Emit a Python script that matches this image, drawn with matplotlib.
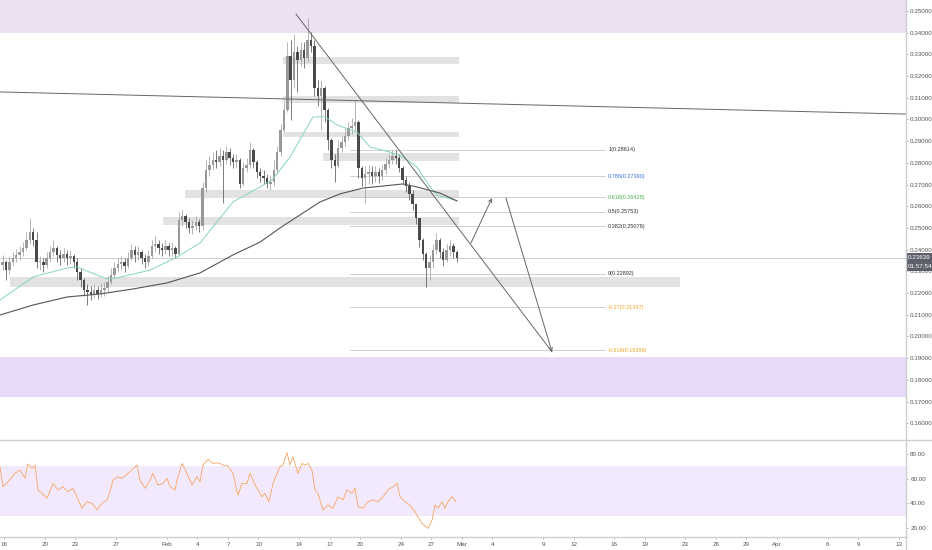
import numpy as np
import matplotlib.pyplot as plt
from matplotlib.lines import Line2D

plt.rcParams['font.family'] = ['Liberation Sans', 'DejaVu Sans']

# x axis: days since 2020-01-01, 8h candles
t0 = 14.667
first_open = 0.2330
closes = [0.2343, 0.2306, 0.2343, 0.2362, 0.2376, 0.2389, 0.2408, 0.2445, 0.2482, 0.2445,
          0.2343, 0.2343, 0.2330, 0.2362, 0.2389, 0.2408, 0.2376, 0.2362, 0.2380, 0.2362,
          0.2371, 0.2343, 0.2297, 0.2260, 0.2214, 0.2205, 0.2191, 0.2214, 0.2196, 0.2214,
          0.2224, 0.2251, 0.2283, 0.2316, 0.2334, 0.2343, 0.2325, 0.2362, 0.2399, 0.2376,
          0.2389, 0.2362, 0.2343, 0.2371, 0.2417, 0.2426, 0.2408, 0.2399, 0.2417, 0.2399,
          0.2408, 0.2380, 0.2537, 0.2555, 0.2528, 0.2500, 0.2509, 0.2528, 0.2509, 0.2684,
          0.2767, 0.2790, 0.2813, 0.2804, 0.2832, 0.2813, 0.2850, 0.2823, 0.2804, 0.2813,
          0.2703, 0.2776, 0.2790, 0.2860, 0.2804, 0.2758, 0.2740, 0.2730, 0.2703, 0.2712,
          0.2767, 0.2850, 0.2952, 0.3044, 0.3293, 0.3182, 0.3311, 0.3274, 0.3320, 0.3283,
          0.3366, 0.3339, 0.3145, 0.3108, 0.3145, 0.3044, 0.2906, 0.2813, 0.2786, 0.2869,
          0.2896, 0.2924, 0.2961, 0.2970, 0.2988, 0.2776, 0.2730, 0.2749, 0.2758, 0.2740,
          0.2758, 0.2740, 0.2767, 0.2795, 0.2813, 0.2832, 0.2823, 0.2776, 0.2721, 0.2694,
          0.2657, 0.2611, 0.2546, 0.2445, 0.2380, 0.2316, 0.2343, 0.2399, 0.2445, 0.2389,
          0.2353, 0.2399, 0.2417, 0.2389, 0.23639]
highs = [0.2376, 0.2353, 0.2371, 0.2389, 0.2403, 0.2417, 0.2435, 0.2482, 0.2546, 0.2500,
         0.2482, 0.2371, 0.2362, 0.2389, 0.2417, 0.2445, 0.2417, 0.2399, 0.2408, 0.2399,
         0.2399, 0.2380, 0.2362, 0.2316, 0.2270, 0.2242, 0.2233, 0.2242, 0.2233, 0.2247,
         0.2251, 0.2279, 0.2316, 0.2343, 0.2362, 0.2371, 0.2362, 0.2389, 0.2426, 0.2417,
         0.2417, 0.2399, 0.2380, 0.2399, 0.2445, 0.2463, 0.2445, 0.2431, 0.2445, 0.2431,
         0.2435, 0.2417, 0.2574, 0.2583, 0.2564, 0.2546, 0.2537, 0.2555, 0.2541, 0.2712,
         0.2813, 0.2832, 0.2850, 0.2860, 0.2869, 0.2860, 0.2878, 0.2869, 0.2841, 0.2841,
         0.2823, 0.2804, 0.2823, 0.2896, 0.2869, 0.2813, 0.2776, 0.2767, 0.2749, 0.2744,
         0.2813, 0.2878, 0.2979, 0.3081, 0.3357, 0.3366, 0.3394, 0.3339, 0.3357, 0.3357,
         0.3468, 0.3403, 0.3366, 0.3182, 0.3182, 0.3154, 0.3053, 0.2915, 0.2841, 0.2906,
         0.2924, 0.2961, 0.2988, 0.3007, 0.3090, 0.2998, 0.2786, 0.2786, 0.2790, 0.2786,
         0.2786, 0.2776, 0.2790, 0.2823, 0.2841, 0.2860, 0.2860, 0.2841, 0.2786, 0.2740,
         0.2712, 0.2675, 0.2611, 0.2546, 0.2454, 0.2389, 0.2376, 0.2426, 0.2477, 0.2454,
         0.2408, 0.2426, 0.2445, 0.2431, 0.2399]
lows = [0.2306, 0.2260, 0.2288, 0.2325, 0.2343, 0.2353, 0.2371, 0.2399, 0.2426, 0.2417,
        0.2316, 0.2306, 0.2297, 0.2316, 0.2343, 0.2371, 0.2343, 0.2330, 0.2343, 0.2330,
        0.2334, 0.2316, 0.2260, 0.2228, 0.2187, 0.2145, 0.2168, 0.2177, 0.2173, 0.2182,
        0.2187, 0.2205, 0.2242, 0.2270, 0.2297, 0.2306, 0.2297, 0.2316, 0.2353, 0.2343,
        0.2353, 0.2334, 0.2316, 0.2325, 0.2362, 0.2389, 0.2380, 0.2371, 0.2380, 0.2371,
        0.2371, 0.2362, 0.2371, 0.2509, 0.2500, 0.2477, 0.2472, 0.2491, 0.2482, 0.2491,
        0.2666, 0.2740, 0.2767, 0.2776, 0.2786, 0.2615, 0.2795, 0.2790, 0.2776, 0.2776,
        0.2684, 0.2694, 0.2758, 0.2776, 0.2776, 0.2730, 0.2712, 0.2703, 0.2684, 0.2675,
        0.2694, 0.2749, 0.2832, 0.2942, 0.3035, 0.2998, 0.3145, 0.3127, 0.3247, 0.3237,
        0.3265, 0.3311, 0.3108, 0.3062, 0.2952, 0.2988, 0.2860, 0.2776, 0.2712, 0.2776,
        0.2850, 0.2878, 0.2906, 0.2933, 0.2942, 0.2730, 0.2694, 0.2615, 0.2703, 0.2703,
        0.2712, 0.2707, 0.2721, 0.2749, 0.2776, 0.2795, 0.2795, 0.2758, 0.2703, 0.2666,
        0.2629, 0.2583, 0.2518, 0.2412, 0.2353, 0.2228, 0.2260, 0.2316, 0.2380, 0.2362,
        0.2325, 0.2343, 0.2371, 0.2362, 0.2343]

# moving averages (day, price)
ema_fast_days = [14.57, 17.82, 21.16, 22.15, 25.10, 26.08, 29.33, 31.98, 34.25, 35.52, 37.49, 40.15,
                 41.33, 43.10, 45.36, 46.54, 47.72, 49.69, 50.97, 52.93, 54.21, 55.59, 56.87, 57.56, 59.52]
ema_fast = [0.2168, 0.2274, 0.2316, 0.2320, 0.2265, 0.2270, 0.2306, 0.2366, 0.2431, 0.2505, 0.2620, 0.2689,
            0.2721, 0.2827, 0.3012, 0.3012, 0.2975, 0.2942, 0.2873, 0.2850, 0.2827, 0.2781, 0.2689, 0.2652, 0.2625]
ma_slow_days = [14.57, 17.82, 21.16, 24.41, 27.66, 31.00, 34.25, 37.49, 40.15, 42.11, 44.08, 46.05,
                48.02, 50.28, 54.21, 55.59, 57.85, 59.52]
ma_slow = [0.2099, 0.2145, 0.2182, 0.2196, 0.2219, 0.2247, 0.2293, 0.2376, 0.2435, 0.2500, 0.2560, 0.2620,
           0.2657, 0.2684, 0.2703, 0.2689, 0.2661, 0.2625]

rsi_days = [14.57, 14.87, 15.36, 16.05, 16.54, 17.03, 17.33, 17.72, 18.02, 18.31, 18.71, 19.20, 19.79, 20.28,
            20.77, 21.26, 21.75, 22.64, 23.13, 23.62, 24.11, 24.61, 25.10, 25.39, 25.69, 26.18, 26.57, 27.16,
            28.05, 28.34, 28.84, 29.33, 29.62, 30.11, 30.61, 31.00, 31.30, 31.79, 31.98, 32.48, 32.97, 33.46,
            33.95, 34.25, 34.54, 35.03, 35.52, 36.02, 36.51, 37.00, 37.49, 37.98, 38.38, 38.87, 39.16, 39.66,
            40.34, 40.64, 41.03, 41.43, 42.11, 42.41, 42.80, 43.10, 43.39, 43.88, 44.28, 44.57, 44.87, 45.26,
            45.56, 45.85, 46.34, 46.84, 47.33, 47.82, 48.31, 48.70, 49.20, 49.49, 49.79, 50.28, 50.77, 51.26,
            51.75, 52.25, 52.74, 53.23, 53.62, 53.92, 54.41, 54.90, 55.39, 56.08, 56.67, 57.07, 57.36, 57.66,
            58.05, 58.34, 58.64, 59.03, 59.43]
rsi_vals = [69.7, 53.5, 57.5, 64.3, 67.0, 60.3, 71.9, 68.4, 71.1, 50.8, 48.1, 44.1, 56.2, 50.8,
            53.5, 49.4, 52.2, 36.0, 41.3, 40.0, 34.6, 40.0, 42.7, 49.4, 58.9, 61.6, 60.3, 64.3,
            71.1, 58.9, 52.2, 58.9, 64.3, 54.9, 56.2, 60.3, 53.5, 50.8, 58.9, 72.4, 64.3, 54.9,
            61.6, 57.5, 71.1, 75.7, 72.4, 72.9, 71.1, 70.3, 64.3, 46.7, 56.2, 56.2, 64.3, 54.9,
            45.4, 48.1, 41.3, 56.2, 69.7, 71.1, 81.1, 71.1, 77.8, 64.3, 72.4, 71.1, 72.4, 67.0,
            50.8, 48.1, 34.6, 38.6, 36.0, 45.4, 42.7, 50.8, 48.1, 52.2, 37.3, 36.0, 41.3, 42.7,
            41.3, 45.4, 50.8, 53.5, 56.2, 45.4, 41.3, 38.6, 33.2, 23.8, 19.7, 26.5, 38.6, 36.0,
            41.3, 36.0, 41.3, 45.4, 41.3]

# drawings: (day start, day end, price low, price high)
gray_zones = [(42.4, 59.7, 0.3256, 0.3288), (42.4, 59.7, 0.3076, 0.3108), (42.4, 59.7, 0.2919, 0.2942),
              (46.3, 59.7, 0.2809, 0.2846), (32.8, 59.7, 0.2638, 0.2675), (30.6, 59.7, 0.2514, 0.2551),
              (15.6, 81.5, 0.2228, 0.2274)]
purple_zones = [(0.3400, 0.3560, '#ece1f2'), (0.1722, 0.1905, '#e8dbf8')]
fib_ratios = ['1', '0.786', '0.618', '0.5', '0.382', '0', '-0.27', '-0.618']
fib_prices = [0.28614, 0.27390, 0.26428, 0.25753, 0.25078, 0.22892, 0.21347, 0.19356]
fib_colors = ['#333333', '#3b6fd8', '#4caf50', '#333333', '#333333', '#333333', '#f5a623', '#f5a623']
last_price = 0.23639

tick_days = [15, 19, 22, 26, 31, 34, 37, 40, 44, 47, 50, 54, 57, 60, 63, 68, 71, 75, 78, 82, 85, 88, 91, 96, 99, 103]
tick_labels = ['16', '20', '23', '27', 'Feb', '4', '7', '10', '14', '17', '20', '24', '27', 'Mar',
               '4', '9', '12', '16', '19', '23', '26', '29', 'Apr', '6', '9', '13']

W, H = 932, 550
fig = plt.figure(figsize=(W / 100, H / 100), dpi=100)
fig.patch.set_facecolor('white')
ax = fig.add_axes([0, 1 - 439 / H, 906 / W, 439 / H])
ax_r = fig.add_axes([0, 1 - 537 / H, 906 / W, 98 / H], sharex=ax)
x0, x1 = 14.574, 103.69

for a in (ax, ax_r):
    for s in a.spines.values():
        s.set_visible(False)

# zones
for lo, hi, col in purple_zones:
    ax.axhspan(lo, hi, color=col, lw=0, zorder=0)
for ds, de, lo, hi in gray_zones:
    ax.fill_between([ds, de], lo, hi, color='#e2e2e2', lw=0, zorder=1)

# fib retracement
for r, lvl, col in zip(fib_ratios, fib_prices, fib_colors):
    ax.plot([49.0, 74.1], [lvl, lvl], color='#c8c8c8', lw=0.6, zorder=1.5)
    ax.text(74.4, lvl, f'{r}({lvl:.5f})', color=col, fontsize=4, va='center', ha='left', zorder=5)

ax.axhline(last_price, color='#c4c4c4', lw=0.6, zorder=1.5)

# candles
n = len(closes)
t = t0 + np.arange(n) / 3 + 1 / 6
c = np.array(closes)
o = np.array([first_open] + closes[:-1])
h = np.maximum(np.array(highs), np.maximum(o, c))
l = np.minimum(np.array(lows), np.minimum(o, c))
cols = np.where(c >= o, '#999999', '#4a4a4a')
ax.vlines(t, l, h, colors=cols, lw=0.5, zorder=3)
body = np.maximum(np.abs(c - o), 0.0004)
ax.bar(t, body, bottom=np.minimum(o, c), width=0.24, color=cols, lw=0, zorder=3)

# moving averages
ax.plot(ema_fast_days, ema_fast, color='#86d2c3', lw=0.7, zorder=4)
ax.plot(ma_slow_days, ma_slow, color='#555555', lw=0.8, zorder=4)

# trend lines and arrows
ax.plot([x0, x1], [0.3127, 0.3025], color='#666666', lw=0.7, zorder=4)
ax.plot([43.69, 68.87], [0.3486, 0.1929], color='#666666', lw=0.7, zorder=4)
arrow = dict(arrowstyle='->', color='#666666', lw=0.7, shrinkA=0, shrinkB=0, mutation_scale=6)
ax.annotate('', xy=(62.97, 0.2638), xytext=(60.90, 0.2431), arrowprops=arrow, zorder=4)
ax.annotate('', xy=(68.87, 0.1929), xytext=(64.34, 0.2638), arrowprops=arrow, zorder=4)

ax.set_xlim(x0, x1)
ax.set_ylim(0.15276, 0.35507)
ax.yaxis.tick_right()
ax.set_yticks(np.arange(0.16, 0.3501, 0.01))
ax.yaxis.set_major_formatter(plt.FormatStrFormatter('%.5f'))
ax.tick_params(axis='y', length=1.5, width=0.5, color='#999999', labelsize=4.5, labelcolor='#555555', pad=1.5)
ax.tick_params(axis='x', bottom=False, labelbottom=False)

box = dict(boxstyle='square,pad=0.3', fc='#5d606b', ec='none')
ax.annotate(f'{last_price:.5f}', xy=(1.0, last_price), xycoords=('axes fraction', 'data'),
            xytext=(1.5, 0), textcoords='offset points', fontsize=4.5, color='white',
            va='center', ha='left', bbox=box, annotation_clip=False, zorder=10)
ax.annotate('01:57:54', xy=(1.0, last_price), xycoords=('axes fraction', 'data'),
            xytext=(1.5, -6.5), textcoords='offset points', fontsize=4.5, color='white',
            va='center', ha='left', bbox=box, annotation_clip=False, zorder=10)

# RSI pane
ax_r.axhspan(30, 70, color='#f3e9fd', lw=0, zorder=0)
ax_r.plot(rsi_days, rsi_vals, color='#f5a662', lw=0.6, zorder=3)
ax_r.set_ylim(12.7, 92.2)
ax_r.yaxis.tick_right()
ax_r.set_yticks([20, 40, 60, 80])
ax_r.yaxis.set_major_formatter(plt.FormatStrFormatter('%.2f'))
ax_r.tick_params(axis='y', length=1.5, width=0.5, color='#999999', labelsize=4.5, labelcolor='#555555', pad=1.5)
ax_r.set_xticks(tick_days)
ax_r.set_xticklabels(tick_labels)
ax_r.tick_params(axis='x', length=1.5, width=0.5, color='#999999', labelsize=4.5, labelcolor='#555555', pad=2)
ax_r.set_xlim(x0, x1)

# pane borders
fig.add_artist(Line2D([906 / W, 906 / W], [0, 1], color='#cfcfcf', lw=1.0))
fig.add_artist(Line2D([0, 1], [1 - 439.5 / H, 1 - 439.5 / H], color='#cfcfcf', lw=1.0))
fig.add_artist(Line2D([0, 906 / W], [1 - 537 / H, 1 - 537 / H], color='#cfcfcf', lw=1.0))

fig.savefig('out.png', dpi=100)
